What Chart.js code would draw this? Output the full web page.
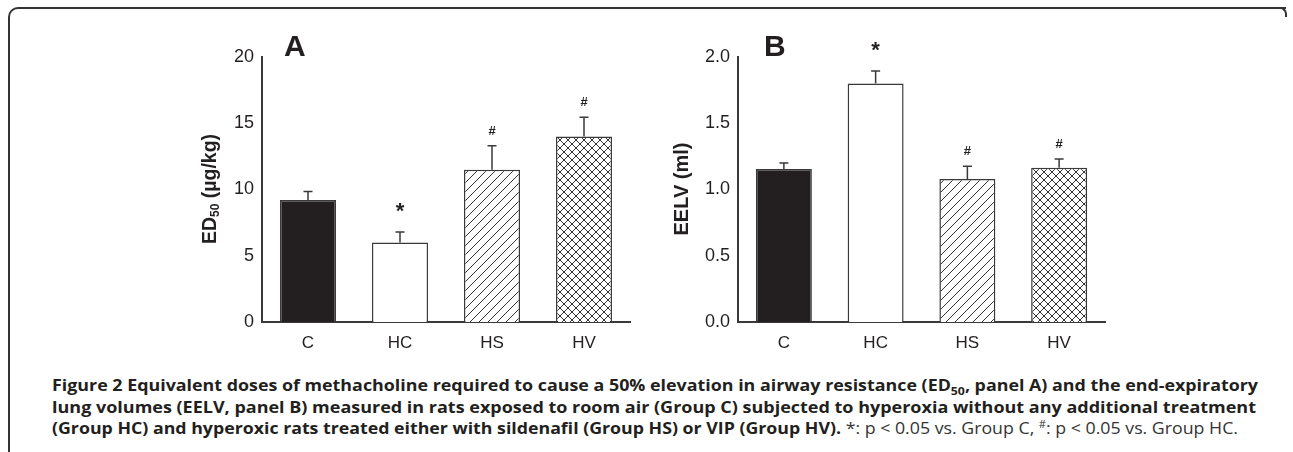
<!DOCTYPE html>
<html>
<head>
<meta charset="utf-8">
<script src="https://cdn.jsdelivr.net/npm/chart.js@4.4.1/dist/chart.umd.min.js"></script>
<style>
  html, body { margin: 0; padding: 0; background: #fff; }
  body { width: 1293px; height: 452px; position: relative; overflow: hidden; }
  .frame { position: absolute; left: 8px; top: 7px; width: 1276px; height: 460px;
    border-top: 2px solid #333; border-left: 2px solid #333; border-top-left-radius: 10px; }
  .corner { position: absolute; left: 1278px; top: 7px; width: 7px; height: 8px;
    border-top: 2px solid #333; border-right: 2px solid #333; border-top-right-radius: 7px; }
  .wrap { position: absolute; top: 0; width: 460px; height: 370px; }
  #wrapA { left: 180px; }
  #wrapB { left: 656px; }
  .cap { position: absolute; left: 52px; white-space: nowrap; font-family: "Open Sans", sans-serif;
    font-size: 16px; color: #231f20; transform-origin: 0 50%; }
  .cap b { font-weight: 700; }
  .cap .lt { font-weight: 400; color: #333; }
</style>
</head>
<body>
<div class="frame"></div>
<div class="corner"></div>
<div class="wrap" id="wrapA"><canvas id="chartA"></canvas></div>
<div class="wrap" id="wrapB"><canvas id="chartB"></canvas></div>
<div class="cap" id="cap1" data-w="1206" style="top:374px"><b>Figure 2 Equivalent doses of methacholine required to cause a 50% elevation in airway resistance (ED<sub style="font-size:11px">50</sub>, panel A) and the end-expiratory</b></div>
<div class="cap" id="cap2" data-w="1204" style="top:396px"><b>lung volumes (EELV, panel B) measured in rats exposed to room air (Group C) subjected to hyperoxia without any additional treatment</b></div>
<div class="cap" id="cap3" data-w="1186" style="top:417px"><b>(Group HC) and hyperoxic rats treated either with sildenafil (Group HS) or VIP (Group HV).</b> <span class="lt">*: p &lt; 0.05 vs. Group C, <sup style="font-size:10px">#</sup>: p &lt; 0.05 vs. Group HC.</span></div>
<script>
'use strict';

const groups = [ 'C', 'HC', 'HS', 'HV' ];

const ed50Mean = [ 9.2, 6.0, 11.5, 14.0 ];
const ed50Err = [ 9.85, 6.8, 13.3, 15.45 ];
const ed50Ticks = [ 0, 5, 10, 15, 20 ];

const eelvMean = [ 1.155, 1.80, 1.08, 1.165 ];
const eelvErr = [ 1.20, 1.895, 1.175, 1.23 ];
const eelvTicks = [ 0.0, 0.5, 1.0, 1.5, 2.0 ];

const marks = [ '', '*', '#', '#' ];
const marksB = [ '', '*', '#', '#' ];

const ink = '#231f20';
const edge = '#3a3a3a';

function makePattern( cross ) {
  const s = cross ? 8 : 9;
  const c = document.createElement( 'canvas' );
  c.width = s;
  c.height = s;
  const g = c.getContext( '2d' );
  g.fillStyle = '#fff';
  g.fillRect( 0, 0, s, s );
  g.strokeStyle = '#333';
  g.lineWidth = 1;
  g.beginPath();
  g.moveTo( -1, s + 1 ); g.lineTo( s + 1, -1 );
  g.moveTo( -1, 1 ); g.lineTo( 1, -1 );
  g.moveTo( s - 1, s + 1 ); g.lineTo( s + 1, s - 1 );
  if ( cross ) {
    g.moveTo( -1, -1 ); g.lineTo( s + 1, s + 1 );
    g.moveTo( s - 1, -1 ); g.lineTo( s + 1, 1 );
    g.moveTo( -1, s - 1 ); g.lineTo( 1, s + 1 );
  }
  g.stroke();
  return g.createPattern( c, 'repeat' );
}

function fills( ctx ) {
  return [ ink, '#fff', makePattern( false ), makePattern( true ) ];
}

// error whiskers, significance marks, panel letter and y title
const extras = {
  id: 'extras',
  afterDatasetsDraw( chart, args, opts ) {
    const ctx = chart.ctx;
    const x = chart.scales.x;
    const y = chart.scales.y;
    const meta = chart.getDatasetMeta( 0 );
    ctx.save();
    ctx.strokeStyle = edge;
    ctx.lineWidth = 1.5;
    for ( let i = 0; i < opts.err.length; i++ ) {
      const cx = x.getPixelForValue( i );
      const top = meta.data[i].y;
      const ey = y.getPixelForValue( opts.err[i] );
      ctx.beginPath();
      ctx.moveTo( cx, top );
      ctx.lineTo( cx, ey );
      ctx.moveTo( cx - 4.5, ey );
      ctx.lineTo( cx + 4.5, ey );
      ctx.stroke();
    }
    ctx.fillStyle = ink;
    ctx.textAlign = 'center';
    ctx.textBaseline = 'alphabetic';
    for ( let i = 0; i < opts.marks.length; i++ ) {
      if ( !opts.marks[i] ) continue;
      const cx = x.getPixelForValue( i );
      const ey = y.getPixelForValue( opts.err[i] );
      if ( opts.marks[i] === '*' ) {
        ctx.font = 'bold 22px "Liberation Sans", Arial, sans-serif';
        ctx.fillText( '*', cx, ey - 14 );
      } else {
        ctx.font = 'bold 13px "Liberation Sans", Arial, sans-serif';
        ctx.fillText( '#', cx, ey - 11 );
      }
    }
    ctx.font = 'bold 30px "Liberation Sans", Arial, sans-serif';
    ctx.textAlign = 'left';
    ctx.fillText( opts.letter, opts.letterX, 56 );

    ctx.translate( opts.titleX, 189 );
    ctx.rotate( -Math.PI / 2 );
    ctx.textBaseline = 'middle';
    const big = 'bold ' + opts.titleSize + 'px "Liberation Sans", Arial, sans-serif';
    const small = 'bold 12px "Liberation Sans", Arial, sans-serif';
    let w = 0;
    opts.title.forEach( p => { ctx.font = p[1] ? small : big; w += ctx.measureText( p[0] ).width; } );
    let px = -w / 2;
    opts.title.forEach( p => {
      ctx.font = p[1] ? small : big;
      ctx.fillText( p[0], px, p[1] ? 5 : 0 );
      px += ctx.measureText( p[0] ).width;
    } );
    ctx.restore();
  }
};

function build( id, values, err, ticks, max, dec, opts ) {
  const ctx = document.getElementById( id ).getContext( '2d' );
  return new Chart( ctx, {
    type: 'bar',
    data: {
      labels: groups,
      datasets: [{
        data: values,
        backgroundColor: fills( ctx ),
        borderColor: edge,
        borderWidth: 1.5,
        borderSkipped: 'bottom',
        barPercentage: 0.61,
        categoryPercentage: 1
      }]
    },
    options: {
      responsive: true,
      maintainAspectRatio: false,
      animation: false,
      events: [],
      layout: { padding: { top: 57, right: opts.padRight, left: 0, bottom: 0 } },
      plugins: {
        legend: { display: false },
        tooltip: { enabled: false },
        extras: Object.assign( { err: err }, opts )
      },
      scales: {
        x: {
          grid: { display: false, drawTicks: true, tickLength: 5, tickColor: edge, offset: false },
          border: { color: edge, width: 2 },
          ticks: { color: ink, padding: 6, font: { family: '"Liberation Sans", Arial', size: 17 } },
          afterFit( s ) { s.height = 48; }
        },
        y: {
          min: 0,
          max: max,
          afterBuildTicks( s ) { s.ticks = ticks.map( v => ( { value: v } ) ); },
          grid: { display: false, drawTicks: true, tickLength: 5, tickColor: edge },
          border: { color: edge, width: 2 },
          ticks: {
            color: ink,
            padding: 3,
            font: { family: '"Liberation Sans", Arial', size: 18 },
            callback: v => v.toFixed( dec )
          },
          afterFit( s ) { s.width = 82; }
        }
      }
    },
    plugins: [ extras ]
  } );
}

build( 'chartA', ed50Mean, ed50Err, ed50Ticks, 20, 0, {
  marks: marks, letter: 'A', letterX: 104, titleX: 31, titleSize: 19.5, padRight: 10,
  title: [ [ 'ED', false ], [ '50', true ], [ ' (\u00b5g/kg)', false ] ]
} );
build( 'chartB', eelvMean, eelvErr, eelvTicks, 2.0, 1, {
  marks: marksB, letter: 'B', letterX: 108, titleX: 26, titleSize: 20, padRight: 11,
  title: [ [ 'EELV (ml)', false ] ]
} );

document.querySelectorAll( '.cap' ).forEach( el => {
  const w = el.getBoundingClientRect().width;
  el.style.transform = 'scaleX(' + ( el.dataset.w / w ) + ')';
} );
</script>
</body>
</html>
